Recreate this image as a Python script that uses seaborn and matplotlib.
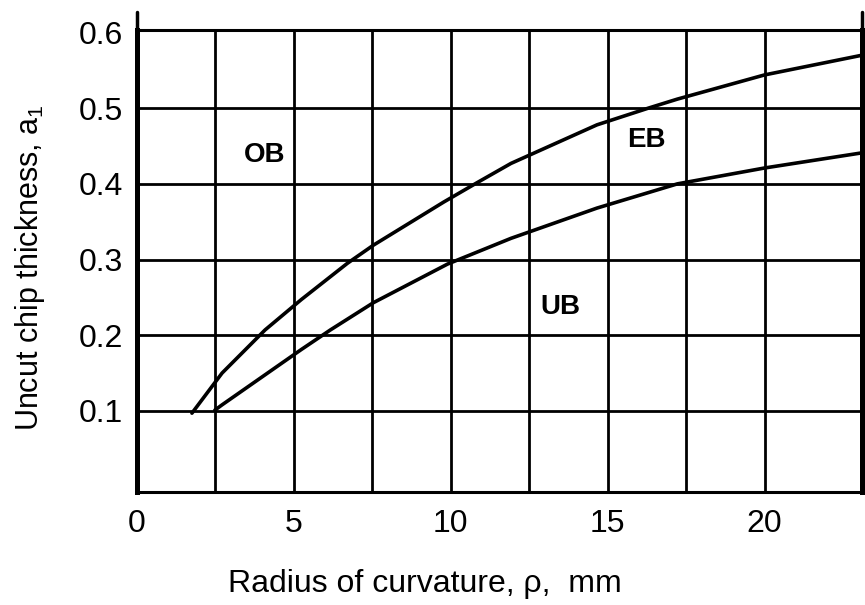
import seaborn as sns
import matplotlib.pyplot as plt
import pandas as pd
import numpy as np

# boundary between OB and EB regions
radius_upper = [1.76, 2.72, 4.09, 5.24, 6.71, 7.54, 9.78, 10.86, 11.92, 14.66, 16.29, 17.22, 20.0, 23.1]
thick_upper = [0.097, 0.150, 0.207, 0.247, 0.295, 0.319, 0.376, 0.402, 0.427, 0.478, 0.500, 0.512, 0.544, 0.570]

# boundary between EB and UB regions
radius_lower = [2.49, 2.72, 5.24, 6.17, 7.54, 9.90, 11.92, 14.66, 17.22, 20.0, 23.1]
thick_lower = [0.101, 0.108, 0.181, 0.207, 0.243, 0.294, 0.328, 0.368, 0.400, 0.421, 0.441]

region_names = ['OB', 'EB', 'UB']
region_x = [4.09, 16.23, 13.5]
region_y = [0.438, 0.458, 0.237]
region_bg = ['white', 'none', 'none']

x_ticks = [0, 5, 10, 15, 20]
y_ticks = [0.1, 0.2, 0.3, 0.4, 0.5, 0.6]

sns.set_style('white')
plt.rcParams['font.family'] = ['Liberation Sans', 'DejaVu Sans']
plt.rcParams['mathtext.fontset'] = 'custom'
plt.rcParams['mathtext.rm'] = 'Liberation Sans'
plt.rcParams['text.color'] = 'k'
plt.rcParams['axes.labelcolor'] = 'k'
plt.rcParams['xtick.color'] = 'k'
plt.rcParams['ytick.color'] = 'k'

df_upper = pd.DataFrame({'radius': radius_upper, 'thickness': thick_upper})
df_lower = pd.DataFrame({'radius': radius_lower, 'thickness': thick_lower})

figure = plt.figure(figsize=(8.65, 6.05), dpi=100)
axis = figure.add_axes([0.158, 0.187, 0.8385, 0.763])

axis.set_xlim(0, 23.1)
axis.set_ylim(-0.007, 0.603)

# grid like the hand drawn paper
for gx in np.arange(2.5, 20.1, 2.5):
    axis.axvline(gx, color='k', lw=2.0, zorder=1)
for gy in [0.1, 0.2, 0.3, 0.4, 0.5]:
    axis.axhline(gy, color='k', lw=2.0, zorder=1)

sns.lineplot(data=df_upper, x='radius', y='thickness', ax=axis, color='k', lw=2.6, zorder=3)
sns.lineplot(data=df_lower, x='radius', y='thickness', ax=axis, color='k', lw=2.6, zorder=3)

for name, tx, ty, bg in zip(region_names, region_x, region_y, region_bg):
    t = axis.text(tx, ty, name, fontsize=20, fontweight='bold', ha='center', va='center', zorder=4)
    if bg != 'none':
        t.set_backgroundcolor(bg)

axis.set_xticks(x_ticks)
axis.set_yticks(y_ticks)
axis.set_xticklabels([str(t) for t in x_ticks])
axis.set_yticklabels([f'{t:.1f}' for t in y_ticks])
axis.tick_params(axis='both', length=0, labelsize=23)
axis.tick_params(axis='x', pad=12)
axis.tick_params(axis='y', pad=10)

for side, width in [('left', 3.6), ('right', 3.6), ('top', 2.2), ('bottom', 2.2)]:
    axis.spines[side].set_color('k')
    axis.spines[side].set_linewidth(width)
# left and right border run a bit past the top edge
axis.axvline(axis.get_xlim()[0], ymin=1, ymax=1.04, color='k', lw=2.5, clip_on=False)
axis.axvline(axis.get_xlim()[1], ymin=1, ymax=1.04, color='k', lw=2.5, clip_on=False)

axis.set_xlabel('Radius of curvature, \u03c1,  mm', fontsize=23)
axis.set_ylabel(r'Uncut chip thickness, a$_\mathregular{1}$', fontsize=22)
axis.xaxis.set_label_coords(0.397, -0.2)
axis.xaxis.label.set_va('center')
axis.yaxis.set_label_coords(-0.124, 0.485)

figure.savefig('out.png', dpi=100)
